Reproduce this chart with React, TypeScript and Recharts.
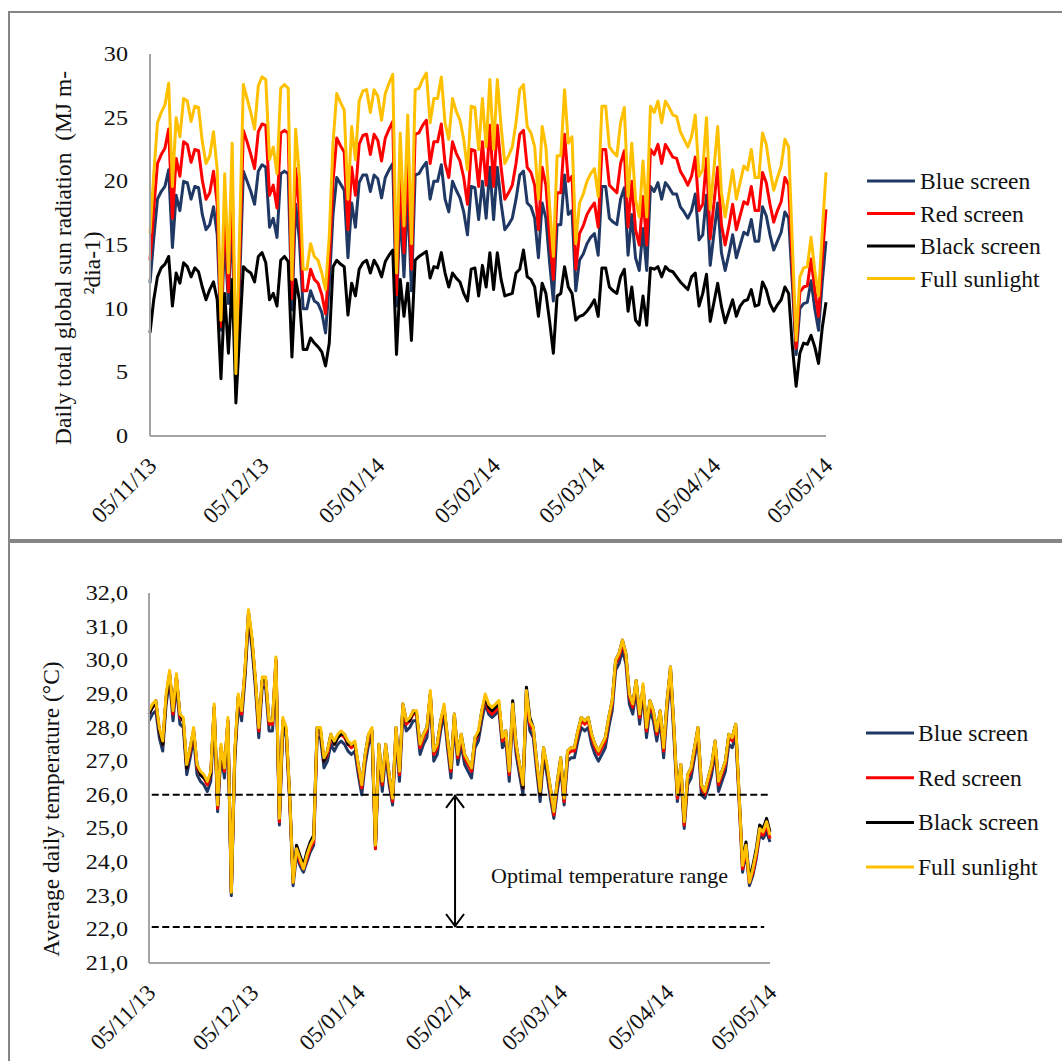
import React from 'react';
import { LineChart, Line, XAxis, YAxis, ReferenceLine } from 'recharts';

const FONT = '"Liberation Serif", "Times New Roman", serif';

const tickDays = [0, 30, 61, 92, 120, 151, 181];
const tickLabels = ['05/11/13', '05/12/13', '05/01/14', '05/02/14', '05/03/14', '05/04/14', '05/05/14'];
const radTicks = [0, 5, 10, 15, 20, 25, 30];
const tempTicks = [21, 22, 23, 24, 25, 26, 27, 28, 29, 30, 31, 32];
const seriesKeys = ['blue', 'red', 'black', 'full'];
const seriesNames = ['Blue screen', 'Red screen', 'Black screen', 'Full sunlight'];
const seriesColors = ['#1F3864', '#FF0000', '#000000', '#FFC000'];
const optimalRange = [22.07, 26.0];

// Daily total global sun radiation (MJ m-2 day-1), 05/11/13 .. 05/05/14
const fullRad = [
  15.9, 20.5, 24.6, 25.4, 26.0, 27.7, 19.6, 25.0, 23.5, 26.5,
  26.3, 24.7, 25.9, 25.8, 23.1, 21.4, 22.0, 23.9, 20.9, 9.1,
  20.6, 12.8, 23.0, 4.9, 16.0, 27.6, 26.5, 25.4, 24.1, 27.5,
  28.2, 28.0, 21.7, 22.7, 20.6, 27.3, 27.6, 27.3, 12.3, 24.1,
  20.4, 13.1, 13.1, 15.1, 14.1, 13.8, 12.8, 11.5, 15.7, 23.0,
  26.9, 26.2, 25.6, 18.6, 24.3, 21.7, 26.3, 27.1, 27.2, 25.4,
  27.2, 26.7, 24.8, 26.9, 27.7, 28.4, 12.8, 23.8, 16.5, 25.2,
  15.1, 27.2, 27.3, 28.0, 28.5, 24.6, 26.5, 26.5, 28.2, 24.6,
  23.3, 26.5, 25.5, 24.8, 23.3, 20.9, 25.9, 25.8, 22.5, 26.5,
  22.7, 28.0, 22.5, 28.0, 24.3, 21.4, 22.0, 22.7, 24.6, 27.2,
  27.6, 24.3, 23.8, 22.7, 18.6, 24.3, 22.7, 18.0, 14.1, 22.0,
  22.0, 27.2, 23.0, 23.5, 15.1, 18.3, 19.0, 20.0, 20.6, 21.0,
  18.8, 25.9, 25.9, 22.7, 22.3, 22.0, 24.6, 25.8, 18.8, 23.0,
  18.6, 17.2, 21.6, 17.2, 25.9, 25.4, 26.3, 24.6, 26.3, 25.8,
  25.2, 25.1, 23.9, 23.3, 22.7, 23.5, 25.2, 20.4, 20.9, 25.0,
  17.8, 21.0, 24.3, 19.1, 17.2, 19.0, 20.9, 18.6, 19.9, 21.2,
  20.9, 22.5, 20.3, 20.3, 23.8, 22.9, 20.9, 19.3, 20.3, 21.2,
  23.3, 22.7, 15.0, 7.5, 12.5, 13.2, 13.3, 15.6, 13.0, 11.0,
  16.0, 20.7,
];
const redRad = [
  13.8, 17.8, 21.4, 22.1, 22.6, 24.1, 17.1, 21.8, 20.4, 23.1,
  22.9, 21.5, 22.5, 22.4, 20.1, 18.6, 19.1, 20.8, 18.2, 8.6,
  17.9, 11.3, 20.0, 4.6, 13.9, 24.0, 23.1, 22.1, 21.0, 23.9,
  24.5, 24.4, 18.9, 19.7, 17.9, 23.8, 24.0, 23.8, 10.8, 21.0,
  17.7, 11.4, 11.4, 13.1, 12.3, 12.0, 11.1, 9.6, 13.7, 20.0,
  23.4, 22.8, 22.3, 16.2, 21.1, 18.9, 22.9, 23.6, 23.7, 22.1,
  23.7, 23.2, 21.6, 23.4, 24.1, 24.7, 11.1, 20.7, 14.4, 21.9,
  13.1, 23.7, 23.8, 24.4, 24.8, 21.4, 23.1, 23.1, 24.5, 21.4,
  20.3, 23.1, 22.2, 21.6, 20.3, 18.2, 22.5, 22.4, 19.6, 23.1,
  19.7, 24.4, 19.6, 24.4, 21.1, 18.6, 19.1, 19.7, 21.4, 23.7,
  24.0, 21.1, 20.7, 19.7, 16.2, 21.1, 19.7, 15.7, 12.3, 19.1,
  19.1, 23.7, 20.0, 20.4, 13.1, 15.9, 16.5, 17.4, 17.9, 18.3,
  16.4, 22.5, 22.5, 19.7, 19.4, 19.1, 21.4, 22.4, 16.4, 20.0,
  16.2, 15.0, 18.8, 15.0, 22.5, 22.1, 22.9, 21.4, 22.9, 22.4,
  21.9, 21.8, 20.8, 20.3, 19.7, 20.4, 21.9, 17.7, 18.2, 21.8,
  15.5, 18.3, 21.1, 16.6, 15.0, 16.5, 18.2, 16.2, 17.3, 18.4,
  18.2, 19.6, 17.7, 17.7, 20.7, 19.9, 18.2, 16.8, 17.7, 18.4,
  20.3, 19.7, 13.3, 6.9, 11.3, 11.7, 11.8, 13.9, 11.5, 9.4,
  14.0, 17.8,
];
const blueRad = [
  12.0, 15.5, 18.6, 19.2, 19.6, 20.9, 14.8, 18.9, 17.7, 20.0,
  19.9, 18.6, 19.6, 19.5, 17.4, 16.2, 16.6, 18.0, 15.8, 8.3,
  15.6, 10.4, 17.4, 4.3, 12.1, 20.8, 20.0, 19.2, 18.2, 20.8,
  21.3, 21.1, 16.4, 17.1, 15.6, 20.6, 20.8, 20.6, 9.9, 18.2,
  15.4, 10.0, 10.0, 11.4, 10.6, 10.4, 9.7, 8.1, 11.9, 17.4,
  20.3, 19.8, 19.3, 14.0, 18.3, 16.4, 19.9, 20.5, 20.5, 19.2,
  20.5, 20.2, 18.7, 20.3, 20.9, 21.4, 10.2, 18.0, 12.5, 19.0,
  11.4, 20.5, 20.6, 21.1, 21.5, 18.6, 20.0, 20.0, 21.3, 18.6,
  17.6, 20.0, 19.3, 18.7, 17.6, 15.8, 19.6, 19.5, 17.0, 20.0,
  17.1, 21.1, 17.0, 21.1, 18.3, 16.2, 16.6, 17.1, 18.6, 20.5,
  20.8, 18.3, 18.0, 17.1, 14.0, 18.3, 17.1, 13.6, 10.6, 16.6,
  16.6, 20.5, 17.4, 17.7, 11.4, 13.8, 14.3, 15.1, 15.6, 15.9,
  14.2, 19.6, 19.6, 17.1, 16.8, 16.6, 18.6, 19.5, 14.2, 17.4,
  14.0, 13.0, 16.3, 13.0, 19.6, 19.2, 19.9, 18.6, 19.9, 19.5,
  19.0, 19.0, 18.0, 17.6, 17.1, 17.7, 19.0, 15.4, 15.8, 18.9,
  13.4, 15.9, 18.3, 14.4, 13.0, 14.3, 15.8, 14.0, 15.0, 16.0,
  15.8, 17.0, 15.3, 15.3, 18.0, 17.3, 15.8, 14.6, 15.3, 16.0,
  17.6, 17.1, 11.9, 6.4, 10.0, 10.4, 10.5, 12.2, 10.0, 8.3,
  12.1, 15.3,
];
const blackRad = [
  8.1, 10.7, 12.5, 13.2, 13.5, 14.1, 10.2, 12.8, 12.0, 13.6,
  13.3, 12.5, 13.2, 12.9, 11.7, 10.7, 11.5, 12.1, 10.7, 4.5,
  11.2, 6.5, 12.3, 2.6, 8.0, 13.3, 13.0, 12.8, 12.1, 14.1,
  14.4, 13.6, 10.7, 11.2, 10.2, 13.8, 14.1, 13.7, 6.2, 12.3,
  10.7, 6.8, 6.8, 7.7, 7.3, 7.0, 6.6, 5.5, 7.3, 13.3,
  13.8, 13.5, 13.3, 9.5, 12.0, 11.0, 13.1, 13.6, 13.8, 12.8,
  13.8, 13.3, 12.5, 13.7, 14.2, 14.6, 6.4, 12.3, 9.4, 12.0,
  7.5, 13.8, 14.1, 14.3, 14.5, 12.4, 13.3, 13.2, 14.4, 12.8,
  11.7, 12.8, 12.4, 12.1, 11.2, 10.6, 13.1, 13.2, 11.0, 13.4,
  11.7, 14.4, 11.5, 14.4, 12.3, 11.0, 11.1, 11.2, 12.8, 13.1,
  14.6, 12.5, 12.3, 11.7, 9.4, 12.0, 11.2, 9.0, 6.5, 11.0,
  11.2, 13.3, 11.7, 11.2, 9.1, 9.4, 9.5, 9.8, 10.2, 10.7,
  9.4, 13.2, 13.2, 11.7, 11.4, 11.2, 12.5, 13.1, 9.8, 11.7,
  9.1, 8.7, 11.0, 8.7, 13.2, 13.1, 13.3, 12.5, 13.3, 13.0,
  12.9, 12.5, 12.1, 11.8, 11.5, 12.5, 12.8, 10.2, 11.2, 12.7,
  9.0, 10.5, 12.0, 10.2, 8.9, 9.8, 10.7, 9.4, 10.2, 10.6,
  10.7, 11.5, 10.2, 10.3, 12.1, 11.5, 10.4, 9.8, 10.3, 10.7,
  11.7, 11.2, 7.0, 3.9, 6.5, 7.3, 7.2, 7.9, 7.0, 5.7,
  8.5, 10.5,
];

// Average daily temperature (°C)
const fullTemp = [
  28.5, 28.7, 28.8, 28.0, 27.6, 29.0, 29.7, 28.5, 29.6, 28.4,
  28.3, 26.9, 27.4, 28.0, 26.9, 26.7, 26.6, 26.4, 26.7, 28.7,
  25.7, 27.5, 26.8, 28.3, 23.1, 27.3, 29.0, 28.5, 29.8, 31.5,
  30.7, 29.5, 28.0, 29.5, 29.5, 28.2, 28.2, 30.1, 25.3, 28.3,
  28.0, 26.0, 23.4, 24.4, 24.1, 23.8, 24.2, 24.5, 24.7, 28.0,
  28.0, 27.1, 27.3, 27.8, 27.6, 27.8, 27.9, 27.8, 27.6, 27.5,
  27.6, 26.9, 26.3, 27.2, 27.8, 28.0, 24.5, 27.5, 26.4, 27.5,
  26.6, 25.9, 28.0, 26.7, 28.7, 28.2, 28.3, 28.5, 28.5, 27.5,
  27.8, 28.0, 29.1, 27.3, 27.5, 28.2, 28.7, 27.7, 26.8, 28.4,
  27.2, 27.8, 27.2, 27.0, 26.8, 27.7, 27.9, 28.5, 29.0, 28.7,
  28.6, 28.7, 28.8, 27.7, 27.9, 26.7, 28.7, 27.5, 26.9, 26.3,
  29.1, 28.2, 28.0, 27.0, 26.1, 27.4, 26.9, 26.2, 25.5, 26.4,
  27.1, 25.9, 27.3, 27.4, 27.4, 27.9, 28.3, 28.2, 28.3, 27.8,
  27.5, 27.3, 27.5, 27.7, 28.3, 28.8, 30.0, 30.2, 30.6, 30.2,
  29.0, 28.7, 29.4, 28.4, 29.3, 28.0, 28.8, 28.5, 27.9, 28.5,
  27.4, 28.8, 29.8, 28.0, 26.0, 26.9, 25.2, 26.6, 26.8, 27.4,
  28.0, 26.3, 26.1, 26.5, 26.9, 27.6, 26.4, 26.7, 27.0, 27.8,
  27.7, 28.1, 26.0, 23.9, 24.5, 23.4, 23.8, 24.3, 25.0, 24.9,
  25.2, 24.8,
];
const redTemp = [
  28.4, 28.6, 28.7, 27.9, 27.5, 28.9, 29.6, 28.4, 29.5, 28.3,
  28.2, 26.8, 27.3, 27.9, 26.8, 26.6, 26.5, 26.3, 26.6, 28.6,
  25.6, 27.4, 26.7, 28.2, 23.1, 27.2, 28.9, 28.4, 29.7, 31.4,
  30.6, 29.4, 27.9, 29.4, 29.4, 28.1, 28.1, 30.0, 25.2, 28.2,
  27.9, 25.9, 23.4, 24.4, 24.0, 23.8, 24.1, 24.4, 24.6, 27.9,
  27.9, 27.0, 27.2, 27.7, 27.5, 27.7, 27.8, 27.7, 27.5, 27.4,
  27.5, 26.8, 26.2, 27.1, 27.7, 27.9, 24.4, 27.4, 26.3, 27.4,
  26.5, 25.8, 27.9, 26.6, 28.6, 28.1, 28.2, 28.4, 28.4, 27.4,
  27.7, 27.9, 29.0, 27.2, 27.4, 28.1, 28.6, 27.6, 26.7, 28.3,
  27.1, 27.7, 27.1, 26.9, 26.7, 27.6, 27.8, 28.4, 28.9, 28.5,
  28.4, 28.5, 28.6, 27.6, 27.8, 26.6, 28.6, 27.4, 26.8, 26.2,
  29.0, 28.1, 27.9, 26.9, 26.0, 27.3, 26.8, 26.1, 25.4, 26.3,
  27.0, 25.8, 27.2, 27.3, 27.3, 27.8, 28.2, 28.1, 28.2, 27.7,
  27.4, 27.2, 27.4, 27.6, 28.2, 28.7, 29.9, 30.1, 30.5, 30.1,
  28.9, 28.6, 29.3, 28.3, 29.2, 27.9, 28.7, 28.4, 27.8, 28.4,
  27.3, 28.7, 29.7, 27.9, 25.9, 26.8, 25.1, 26.5, 26.7, 27.3,
  27.9, 26.2, 26.0, 26.4, 26.8, 27.5, 26.3, 26.6, 26.9, 27.7,
  27.6, 28.0, 25.9, 23.8, 24.4, 23.4, 23.7, 24.2, 24.9, 24.8,
  25.1, 24.7,
];
const blueTemp = [
  28.2, 28.4, 28.5, 27.7, 27.3, 28.7, 29.4, 28.2, 29.3, 28.1,
  28.0, 26.6, 27.1, 27.7, 26.6, 26.4, 26.3, 26.1, 26.4, 28.4,
  25.5, 27.2, 26.5, 28.0, 23.0, 27.0, 28.7, 28.2, 29.5, 31.2,
  30.4, 29.2, 27.7, 29.2, 29.2, 27.9, 27.9, 29.8, 25.1, 28.0,
  27.7, 25.8, 23.3, 24.2, 23.9, 23.7, 24.0, 24.3, 24.5, 27.7,
  27.7, 26.8, 27.0, 27.5, 27.3, 27.5, 27.6, 27.5, 27.3, 27.2,
  27.3, 26.6, 26.0, 26.9, 27.5, 27.7, 24.4, 27.2, 26.1, 27.2,
  26.3, 25.7, 27.7, 26.4, 28.4, 27.9, 28.0, 28.2, 28.2, 27.2,
  27.5, 27.7, 28.8, 27.0, 27.2, 27.9, 28.4, 27.4, 26.5, 28.1,
  26.9, 27.5, 26.9, 26.7, 26.5, 27.4, 27.6, 28.2, 28.7, 28.4,
  28.3, 28.4, 28.5, 27.4, 27.6, 26.4, 28.4, 27.2, 26.6, 26.0,
  28.8, 27.9, 27.7, 26.7, 25.8, 27.1, 26.6, 25.9, 25.3, 26.1,
  26.8, 25.7, 27.0, 27.1, 27.1, 27.6, 28.0, 27.9, 28.0, 27.5,
  27.2, 27.0, 27.2, 27.4, 28.0, 28.5, 29.7, 29.9, 30.3, 29.9,
  28.7, 28.4, 29.1, 28.1, 29.0, 27.7, 28.5, 28.2, 27.6, 28.2,
  27.1, 28.5, 29.5, 27.7, 25.8, 26.6, 25.0, 26.3, 26.5, 27.1,
  27.7, 26.0, 25.9, 26.2, 26.6, 27.3, 26.1, 26.4, 26.7, 27.5,
  27.4, 27.8, 25.8, 23.7, 24.3, 23.3, 23.6, 24.1, 24.8, 24.7,
  24.9, 24.6,
];
const blackTemp = [
  28.4, 28.6, 28.8, 27.9, 27.5, 28.9, 29.6, 28.5, 29.5, 28.4,
  28.2, 26.8, 27.4, 27.9, 26.9, 26.6, 26.5, 26.4, 26.6, 28.6,
  25.7, 27.4, 26.8, 28.2, 23.1, 27.2, 28.9, 28.5, 29.7, 31.4,
  30.6, 29.4, 28.0, 29.4, 29.4, 28.2, 28.2, 30.0, 25.3, 28.2,
  27.9, 26.0, 23.5, 24.5, 24.2, 23.9, 24.3, 24.6, 24.8, 28.0,
  27.9, 27.0, 27.3, 27.8, 27.5, 27.7, 27.8, 27.8, 27.5, 27.5,
  27.5, 26.9, 26.3, 27.2, 27.8, 27.9, 24.5, 27.5, 26.4, 27.5,
  26.6, 25.9, 28.0, 26.7, 28.7, 28.2, 28.2, 28.5, 28.4, 27.5,
  27.8, 28.0, 29.0, 27.3, 27.5, 28.2, 28.6, 27.7, 26.8, 28.4,
  27.2, 27.8, 27.2, 27.0, 26.8, 27.7, 27.8, 28.5, 28.9, 28.6,
  28.5, 28.6, 28.7, 27.7, 27.9, 26.7, 28.8, 27.5, 26.9, 26.2,
  29.2, 28.3, 28.0, 27.0, 26.0, 27.4, 26.8, 26.2, 25.5, 26.4,
  27.1, 25.9, 27.3, 27.4, 27.4, 27.9, 28.3, 28.2, 28.3, 27.8,
  27.5, 27.3, 27.5, 27.7, 28.3, 28.8, 30.0, 30.2, 30.6, 30.2,
  29.0, 28.7, 29.4, 28.4, 29.2, 28.0, 28.8, 28.5, 27.9, 28.5,
  27.4, 28.8, 29.8, 28.0, 26.0, 26.9, 25.2, 26.6, 26.8, 27.4,
  28.0, 26.3, 26.1, 26.5, 26.9, 27.6, 26.4, 26.7, 27.0, 27.8,
  27.7, 28.1, 26.0, 24.0, 24.6, 23.5, 23.9, 24.4, 25.1, 25.0,
  25.3, 24.9,
];

const radData = fullRad.map((_, i) => ({
  day: i, blue: blueRad[i], red: redRad[i], black: blackRad[i], full: fullRad[i],
}));
const tempData = fullTemp.map((_, i) => ({
  day: i, blue: blueTemp[i], red: redTemp[i], black: blackTemp[i], full: fullTemp[i],
}));

const XTick = (props: any) => {
  const { x, y, payload } = props;
  const idx = tickDays.indexOf(payload.value);
  const ax = x + 8;
  const ay = y + 31;
  return (
    <text x={ax} y={ay} textAnchor="end" transform={`rotate(-45 ${ax} ${ay})`}
      fontSize={23} fontFamily={FONT} fill="#111">
      {idx >= 0 ? tickLabels[idx] : ''}
    </text>
  );
};

const fmtRad = (v: number) => String(v);
const fmtTemp = (v: number) => v.toFixed(1).replace('.', ',');

const YTick = (props: any) => {
  const { x, y, payload, fmt } = props;
  return (
    <text transform={`translate(${x} ${y}) scale(1.15 1)`} textAnchor="end" dominantBaseline="central"
      fontSize={21} fontFamily={FONT} fill="#111">
      {fmt(payload.value)}
    </text>
  );
};

const ArrowShape = (props: any) => {
  const { x1, y1, x2, y2 } = props;
  const top = Math.min(y1, y2);
  const bot = Math.max(y1, y2);
  const textY = top + (26 - 23.6) / (26 - 22.07) * (bot - top);
  return (
    <g>
      <line x1={x1} y1={top} x2={x2} y2={bot} stroke="#000" strokeWidth={2} />
      <polyline points={`${x1 - 9},${top + 13} ${x1},${top + 1} ${x1 + 9},${top + 13}`} fill="none" stroke="#000" strokeWidth={2} />
      <polyline points={`${x1 - 9},${bot - 13} ${x1},${bot - 1} ${x1 + 9},${bot - 13}`} fill="none" stroke="#000" strokeWidth={2} />
      <text x={x1 + 36} y={textY} dominantBaseline="central" fontSize={22} fontFamily={FONT} fill="#111">
        Optimal temperature range
      </text>
    </g>
  );
};

const axisStroke = { stroke: '#a3a3a3', strokeWidth: 2 };

const LegendBlock = ({ top, gap, lineX, textX }: { top: number; gap: number; lineX: number; textX: number }) => (
  <g>
    {seriesNames.map((n, i) => (
      <g key={n}>
        <line x1={lineX} x2={lineX + 48} y1={top + i * gap} y2={top + i * gap} stroke={seriesColors[i]} strokeWidth={3} />
        <text x={textX} y={top + i * gap} dominantBaseline="central" fontSize={23.5} fontFamily={FONT} fill="#111">{n}</text>
      </g>
    ))}
  </g>
);

export default function App() {
  return (
    <div style={{ position: 'absolute', left: 0, top: 0, width: 1062, height: 1061, background: '#fff', overflow: 'hidden' }}>
      <div style={{ position: 'absolute', left: 0, top: 0 }}>
        <LineChart width={1062} height={540} data={radData} margin={{ top: 54, right: 236, bottom: 0, left: 0 }}>
          <XAxis dataKey="day" type="number" domain={[0, 181]} ticks={tickDays} interval={0}
            tickLine={false} tickSize={0} tickMargin={0} height={104} axisLine={axisStroke} tick={<XTick />} />
          <YAxis type="number" domain={[0, 30]} ticks={radTicks} interval={0} width={150}
            tickLine={false} tickSize={0} tickMargin={22} axisLine={axisStroke} tick={<YTick fmt={fmtRad} />} />
          {seriesKeys.map((k, i) => (
            <Line key={k} type="linear" dataKey={k} name={seriesNames[i]} stroke={seriesColors[i]}
              strokeWidth={3} dot={false} activeDot={false} isAnimationActive={false} strokeLinejoin="round" />
          ))}
        </LineChart>
      </div>
      <div style={{ position: 'absolute', left: 0, top: 540 }}>
        <LineChart width={1062} height={521} data={tempData} margin={{ top: 53, right: 292, bottom: 0, left: 0 }}>
          <XAxis dataKey="day" type="number" domain={[0, 181]} ticks={tickDays} interval={0}
            tickLine={false} tickSize={0} tickMargin={0} height={98} axisLine={axisStroke} tick={<XTick />} />
          <YAxis type="number" domain={[21, 32]} ticks={tempTicks} interval={0} width={149}
            tickLine={false} tickSize={0} tickMargin={21} axisLine={axisStroke} tick={<YTick fmt={fmtTemp} />} />
          {seriesKeys.map((k, i) => (
            <Line key={k} type="linear" dataKey={k} name={seriesNames[i]} stroke={seriesColors[i]}
              strokeWidth={3} dot={false} activeDot={false} isAnimationActive={false} strokeLinejoin="round" />
          ))}
          <ReferenceLine segment={[{ x: 0.8, y: optimalRange[1] }, { x: 181, y: optimalRange[1] }]}
            stroke="#000" strokeWidth={2} strokeDasharray="7 3.5" />
          <ReferenceLine segment={[{ x: 0.8, y: optimalRange[0] }, { x: 179.3, y: optimalRange[0] }]}
            stroke="#000" strokeWidth={2} strokeDasharray="7 3.5" />
          <ReferenceLine segment={[{ x: 89.2, y: optimalRange[1] }, { x: 89.2, y: optimalRange[0] }]}
            shape={(p: any) => <ArrowShape {...p} />} />
        </LineChart>
      </div>
      <svg width={1062} height={1061} style={{ position: 'absolute', left: 0, top: 0, pointerEvents: 'none' }}>
        <rect x={9} y={12} width={1100} height={528} fill="none" stroke="#858585" strokeWidth={2} />
        <rect x={9} y={542} width={1100} height={600} fill="none" stroke="#858585" strokeWidth={2} />
        <text transform="translate(63 258) rotate(-90)" textAnchor="middle" dominantBaseline="central"
          fontSize={23.5} fontFamily={FONT} fill="#111" style={{ whiteSpace: 'pre' }}>
          {'Daily total global sun radiation  (MJ m-'}
        </text>
        <text transform="translate(92 263) rotate(-90)" textAnchor="middle" dominantBaseline="central"
          fontSize={23.5} fontFamily={FONT} fill="#111">
          {'\u00B2dia-1)'}
        </text>
        <text transform="translate(51 809) rotate(-90)" textAnchor="middle" dominantBaseline="central"
          fontSize={23.5} fontFamily={FONT} fill="#111">
          {'Average daily temperature (\u00B0C)'}
        </text>
        <LegendBlock top={181} gap={32.5} lineX={867} textX={920} />
        <LegendBlock top={733} gap={44.7} lineX={866} textX={918} />
      </svg>
    </div>
  );
}
